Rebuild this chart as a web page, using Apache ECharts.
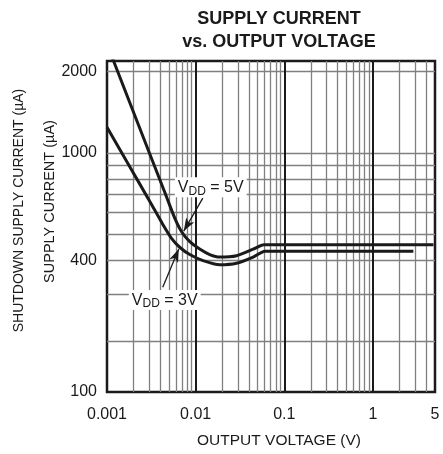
<!DOCTYPE html>
<html><head><meta charset="utf-8">
<script src="https://cdn.jsdelivr.net/npm/echarts@6/dist/echarts.min.js"></script>
<style>html,body{margin:0;padding:0;background:#fff}#c{width:443px;height:454px}</style>
</head><body><div id="c"></div>
<script>
const FONT = "'Liberation Sans Narrow','Arial Narrow','Liberation Sans',sans-serif";

// VDD = 5V curve: output voltage (V) / supply current (uA)
const vdd5X = [0.001, 0.00122, 0.0018, 0.00303, 0.00448, 0.00581, 0.00697, 0.00858, 0.0111, 0.0144, 0.0187, 0.0289, 0.0445, 0.0587, 4.8];
const vdd5Y = [2527, 2139, 1540, 993, 715, 573, 509, 469, 440, 420, 411, 416, 440, 457, 457];
// VDD = 3V curve
const vdd3X = [0.001, 0.0018, 0.00303, 0.00425, 0.00537, 0.0066, 0.00858, 0.0121, 0.0187, 0.0289, 0.0445, 0.0603, 2.85];
const vdd3Y = [1245, 890, 662, 544, 481, 447, 420, 399, 385, 390, 411, 432, 432];

// axes
const X_MIN = 0.001, X_MAX = 5;
const Y_MIN = 130, Y_MAX = 2190;
const xGrid = [0.002,0.003,0.004,0.005,0.006,0.007,0.008,0.009,
               0.02,0.03,0.04,0.05,0.06,0.07,0.08,0.09,
               0.2,0.3,0.4,0.5,0.6,0.7,0.8,0.9,
               2,3,4];
const xDecades = [0.01, 0.1, 1];
const xTickVals = [0.001, 0.01, 0.1, 1, 5];
const xTickText = ['0.001', '0.01', '0.1', '1', '5'];
const yGrid = [200, 300, 400, 500, 600, 700, 800, 900, 1000, 2000];
const yTickVals = [Y_MIN, 400, 1000, 2000];
const yTickText = ['100', '400', '1000', '2000'];

// annotations (data coordinates)
const label5 = [0.0148, 746];
const arrow5 = [[0.01203, 680], [0.00734, 513]];
const label3 = [0.00448, 285];
const arrow3 = [[0.00425, 318], [0.00645, 440]];

function pick(vals, texts, v) {
  let bi = 0, bd = Infinity;
  vals.forEach((t, i) => { const d = Math.abs(Math.log(t) - Math.log(v)); if (d < bd) { bd = d; bi = i; } });
  return bd < 0.05 ? texts[bi] : '';
}
const zip = (xs, ys) => xs.map((x, i) => [x, ys[i]]);

const richText = {
  a: { fontFamily: FONT, fontSize: 16, color: '#1a1a1a', lineHeight: 19 },
  b: { fontFamily: FONT, fontSize: 12, color: '#1a1a1a', verticalAlign: 'bottom', lineHeight: 13 }
};
const gridLineStyle = { type: 'solid', color: '#1a1a1a', width: 2, opacity: 1 };

const chart = echarts.init(document.getElementById('c'), null, { renderer: 'canvas' });
chart.setOption({
  animation: false,
  backgroundColor: '#fff',
  title: {
    text: 'SUPPLY CURRENT\nvs. OUTPUT VOLTAGE',
    left: 274, top: 3, textAlign: 'center',
    textStyle: { fontFamily: FONT, fontWeight: 'bold', fontSize: 18, lineHeight: 23, color: '#1a1a1a' }
  },
  grid: { left: 107, right: 8, top: 61, bottom: 62, show: true, borderColor: '#1a1a1a', borderWidth: 2.5, backgroundColor: 'transparent' },
  xAxis: {
    type: 'log', logBase: 10, min: X_MIN, max: X_MAX,
    axisLine: { show: false },
    axisTick: { show: false, customValues: xGrid },
    splitLine: { show: true, lineStyle: { color: '#808080', width: 1.3 } },
    axisLabel: {
      customValues: xTickVals, margin: 15,
      formatter: v => pick(xTickVals, xTickText, v),
      fontFamily: FONT, fontSize: 16, color: '#1a1a1a'
    },
    name: 'OUTPUT VOLTAGE (V)', nameLocation: 'middle', nameGap: 41,
    nameTextStyle: { fontFamily: FONT, fontSize: 15.5, color: '#1a1a1a', padding: [0, 0, 0, 16] }
  },
  yAxis: [{
    type: 'log', logBase: 10, min: Y_MIN, max: Y_MAX,
    axisLine: { show: false },
    axisTick: { show: false, customValues: yGrid },
    splitLine: { show: true, lineStyle: { color: '#808080', width: 1.3 } },
    axisLabel: {
      customValues: yTickVals, margin: 10,
      formatter: v => pick(yTickVals, yTickText, v),
      fontFamily: FONT, fontSize: 16, color: '#1a1a1a'
    },
    name: 'SUPPLY CURRENT (µA)', nameLocation: 'middle', nameGap: 50, nameMoveOverlap: false,
    nameTextStyle: { fontFamily: FONT, fontSize: 14.5, color: '#1a1a1a', padding: [0, 0, 0, 50] }
  }, {
    type: 'log', logBase: 10, min: Y_MIN, max: Y_MAX, position: 'left',
    axisLine: { show: false }, axisTick: { show: false }, axisLabel: { show: false }, splitLine: { show: false },
    name: 'SHUTDOWN SUPPLY CURRENT (µA)', nameLocation: 'middle', nameGap: 81, nameMoveOverlap: false,
    nameTextStyle: { fontFamily: FONT, fontSize: 14, color: '#1a1a1a', padding: [0, 0, 0, 32] }
  }],
  series: [{
    name: 'VDD = 5V', type: 'line', data: zip(vdd5X, vdd5Y), showSymbol: false, smooth: 0.2,
    lineStyle: { color: '#1a1a1a', width: 3 }, z: 5,
    markLine: {
      silent: true, symbol: 'none', label: { show: false }, z: 1,
      lineStyle: gridLineStyle,
      data: xDecades.map(v => ({ xAxis: v }))
    }
  }, {
    name: 'VDD = 3V', type: 'line', data: zip(vdd3X, vdd3Y), showSymbol: false, smooth: 0.2,
    lineStyle: { color: '#1a1a1a', width: 3 }, z: 5
  }, {
    name: 'annotations', type: 'line', data: [], z: 10,
    markLine: {
      silent: true, symbol: ['none', 'arrow'], symbolSize: [7, 13],
      label: { show: false },
      lineStyle: { type: 'solid', color: '#1a1a1a', width: 1.3 },
      data: [
        [{ coord: arrow5[0] }, { coord: arrow5[1] }],
        [{ coord: arrow3[0] }, { coord: arrow3[1] }]
      ]
    },
    markPoint: {
      silent: true, symbol: 'rect', symbolSize: 0,
      label: { show: true, position: 'inside', backgroundColor: '#fff', padding: [1, 3, 0, 3], rich: richText },
      data: [
        { coord: label5, label: { formatter: '{a|V}{b|DD}{a| = 5V}' } },
        { coord: label3, label: { formatter: '{a|V}{b|DD}{a| = 3V}' } }
      ]
    }
  }]
});
</script></body></html>
